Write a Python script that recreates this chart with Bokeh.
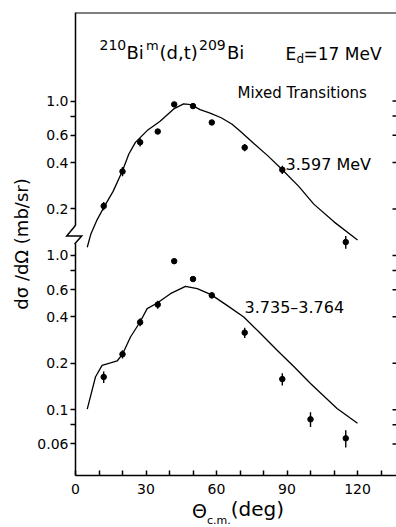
from bokeh.plotting import figure
from bokeh.models import Range1d, FixedTicker, Label, Arrow, Div
from bokeh.layouts import column
from bokeh.embed import file_html
from bokeh.resources import INLINE

# ---------------- data ----------------
# 3.597 MeV group (upper panel)
angle_3597 = [12, 20, 27.5, 35, 42, 50, 58, 72, 88, 115]
xsec_3597 = [0.209, 0.35, 0.541, 0.635, 0.952, 0.928, 0.727, 0.50, 0.359, 0.122]
err_3597 = [0.013, 0.024, 0.033, 0.02, 0.0, 0.0, 0.0, 0.027, 0.022, 0.0115]
curve_angle_3597 = [5, 6.5, 9, 12, 16, 20, 22.7, 25.5, 30.5, 36, 41.8, 46, 49, 53,
                    57, 62, 66.5, 70, 76, 82, 88, 95, 101.4, 110, 120]
curve_3597 = [0.113, 0.137, 0.168, 0.204, 0.26, 0.354, 0.454, 0.54, 0.644, 0.74,
              0.89, 0.96, 0.95, 0.88, 0.84, 0.78, 0.71, 0.64, 0.53, 0.44, 0.359,
              0.28, 0.215, 0.165, 0.126]

# 3.735-3.764 MeV group (lower panel)
angle_3735 = [12, 20, 27.5, 35, 42, 50, 58, 72, 88, 100, 115]
xsec_3735 = [0.163, 0.229, 0.369, 0.48, 0.918, 0.703, 0.551, 0.316, 0.158, 0.0867, 0.0653]
err_3735 = [0.014, 0.014, 0.022, 0.029, 0.0, 0.0, 0.025, 0.024, 0.0145, 0.0095, 0.0083]
curve_angle_3735 = [5, 8.5, 11.3, 14.9, 17.7, 20, 23.4, 27.4, 30.5, 34.8, 40.4, 46.8,
                    51.8, 57.7, 64, 71.6, 78, 85.8, 93, 100, 111.3, 120]
curve_3735 = [0.101, 0.163, 0.194, 0.201, 0.207, 0.229, 0.296, 0.369, 0.452, 0.492,
              0.565, 0.63, 0.609, 0.557, 0.48, 0.399, 0.32, 0.243, 0.19, 0.148,
              0.102, 0.0817]

# tick labels
x_tick_labels = [0, 30, 60, 90, 120]
x_minor_ticks = [10, 20, 40, 50, 70, 80, 100, 110, 130]
upper_tick_labels = ["1.0", "0.6", "0.4", "0.2"]
upper_minor = [0.8]
lower_tick_labels = ["1.0", "0.6", "0.4", "0.2", "0.1", "0.06"]
lower_minor = [0.8, 0.08]

UPPER_SHIFT = 10.0   # upper panel is stacked one decade above the lower one

# ---------------- layout ----------------
FRAME_LEFT, FRAME_TOP = 75, 12          # canvas px (page has no margin)
FRAME_W, FRAME_H = 396 - FRAME_LEFT, 463
PX_PER_DEG = 2.35
Y_MIN, DECADES = 0.0375, 3.0
X_END = FRAME_W / PX_PER_DEG
Y_MAX = Y_MIN * 10 ** DECADES
FRAME_BOTTOM = FRAME_TOP + FRAME_H
PX_PER_DEC = FRAME_H / DECADES
BREAK_TOP, BREAK_BOTTOM = 226, 243.5    # canvas px of the axis break
RIGHT_TICK_PX = 4
FONT = "DejaVu Sans"


def dx(px):
    return (px - FRAME_LEFT) / PX_PER_DEG


def dy(py):
    return Y_MIN * 10 ** ((FRAME_BOTTOM - py) / PX_PER_DEC)


p = figure(x_range=Range1d(0, X_END), y_range=Range1d(Y_MIN, Y_MAX),
           y_axis_type="log", frame_width=FRAME_W, frame_height=FRAME_H,
           min_border_left=FRAME_LEFT, min_border_right=0,
           min_border_top=FRAME_TOP, min_border_bottom=24,
           output_backend="svg", toolbar_location=None)
p.xgrid.visible = False
p.ygrid.visible = False
p.outline_line_color = None
p.background_fill_color = "white"
p.border_fill_color = "white"

# ---- y axis ticks / labels
up = lambda v: round(v * UPPER_SHIFT, 6)
y_major = [up(float(s)) for s in upper_tick_labels] + [float(s) for s in lower_tick_labels]
y_minor = [up(v) for v in upper_minor] + lower_minor
overrides = {}
for s in upper_tick_labels:
    overrides[up(float(s))] = s
for s in lower_tick_labels:
    overrides[float(s)] = s
yax = p.yaxis[0]
yax.ticker = FixedTicker(ticks=y_major, minor_ticks=y_minor)
yax.major_label_overrides = overrides
yax.axis_line_width = 1.5
yax.axis_line_color = "black"
gap_start = int(round(FRAME_BOTTOM - BREAK_BOTTOM))
gap_len = int(round(BREAK_BOTTOM - BREAK_TOP))
yax.axis_line_dash = f"{gap_start} {gap_len} 1000"
yax.major_tick_out = 5
yax.major_tick_in = 0
yax.minor_tick_out = 5
yax.minor_tick_in = 0
yax.major_tick_line_width = 1.5
yax.minor_tick_line_width = 1.5
yax.major_label_standoff = 2
yax.major_label_text_font = FONT
yax.major_label_text_font_size = "14px"
yax.major_label_text_color = "black"
yax.axis_label = "dσ /dΩ (mb/sr)"
yax.axis_label_text_font = FONT
yax.axis_label_text_font_size = "18px"
yax.axis_label_text_font_style = "normal"
yax.axis_label_text_color = "black"
yax.axis_label_standoff = 2

# ---- x axis
xax = p.xaxis[0]
xax.ticker = FixedTicker(ticks=x_tick_labels, minor_ticks=x_minor_ticks)
xax.axis_line_width = 1.5
xax.axis_line_color = "black"
xax.major_tick_in = 5
xax.major_tick_out = 0
xax.minor_tick_in = 5
xax.minor_tick_out = 0
xax.major_tick_line_width = 1.5
xax.minor_tick_line_width = 1.5
xax.major_label_standoff = 8
xax.major_label_text_font = FONT
xax.major_label_text_font_size = "14px"
xax.major_label_text_color = "black"

# ---- frame top line
p.add_layout(Arrow(end=None, x_start=0, y_start=Y_MAX, x_end=X_END, y_end=Y_MAX,
                   line_color="black", line_width=2))

# ---- inward ticks of the (cut-off) right frame edge, at the same tick values
right_ticks = y_major + y_minor
p.segment(x0=[X_END - RIGHT_TICK_PX / PX_PER_DEG] * len(right_ticks), y0=right_ticks,
          x1=[X_END] * len(right_ticks), y1=right_ticks,
          line_color="black", line_width=1.5)

# ---- curves
p.line(curve_angle_3597, [v * UPPER_SHIFT for v in curve_3597],
       line_color="black", line_width=1.3)
p.line(curve_angle_3735, curve_3735, line_color="black", line_width=1.3)

# ---- data points with error bars
ya = [v * UPPER_SHIFT for v in xsec_3597]
ea = [e * UPPER_SHIFT for e in err_3597]
p.segment(x0=angle_3597, y0=[v - e for v, e in zip(ya, ea)],
          x1=angle_3597, y1=[v + e for v, e in zip(ya, ea)],
          line_color="black", line_width=1.4)
p.scatter(angle_3597, ya, size=5.5, color="black")
p.segment(x0=angle_3735, y0=[v - e for v, e in zip(xsec_3735, err_3735)],
          x1=angle_3735, y1=[v + e for v, e in zip(xsec_3735, err_3735)],
          line_color="black", line_width=1.4)
p.scatter(angle_3735, xsec_3735, size=5.5, color="black")


def lab(text, px, py, size):
    p.add_layout(Label(x=dx(px), y=dy(py), text=text, text_font=FONT,
                       text_font_size=size, text_color="black",
                       text_baseline="alphabetic", text_align="left"))


# title: 210Bi^m(d,t)209Bi
lab("210", 99, 44.5, "14px")
lab("Bi", 126, 51.7, "18px")
lab("m", 145.4, 44.5, "13px")
lab("(d,t)", 159, 51.7, "18px")
lab("209", 198.5, 44.5, "14px")
lab("Bi", 226.5, 51.7, "18px")
# E_d = 17 MeV
lab("E", 285, 53.3, "17px")
lab("d", 296, 58.5, "12px")
lab("=17 MeV", 303, 53.3, "17px")

lab("Mixed Transitions", 237, 92.7, "15px")
lab("3.597 MeV", 285, 164, "16px")
lab("3.735–3.764", 244, 306.5, "16px")

# x axis title: Θ_c.m.(deg) (HTML, so the subscript is real text)
xtitle = Div(
    text=('<div style="padding-left:192px; padding-top:2px; font-family:\'DejaVu Sans\';'
          ' font-size:20px; line-height:20px; white-space:nowrap; color:black;">'
          '<span style="font-size:19px;">Θ</span>'
          '<span style="font-size:11px; position:relative; top:6px;">c.m.</span>'
          '<span style="position:relative; top:-2px;">(deg)</span></div>'),
    width=396, height=28, margin=0)

# axis-break zig-zag drawn over the left spine
zz_left, zz_top = 63, 222
zig = Div(
    text=('<svg width="22" height="26" style="display:block;overflow:visible">'
          '<polyline points="12,3 12,4 3.7,14 18.7,14 12,21.5 12,22" fill="none" '
          'stroke="black" stroke-width="1.5" stroke-linejoin="miter"/></svg>'),
    width=22, height=26, margin=0,
    styles={"position": "absolute", "left": f"{zz_left}px", "top": f"{zz_top}px",
            "z-index": "10"})

layout = column(p, xtitle, zig, spacing=0)
open("out.html", "w").write(file_html(layout, INLINE))
